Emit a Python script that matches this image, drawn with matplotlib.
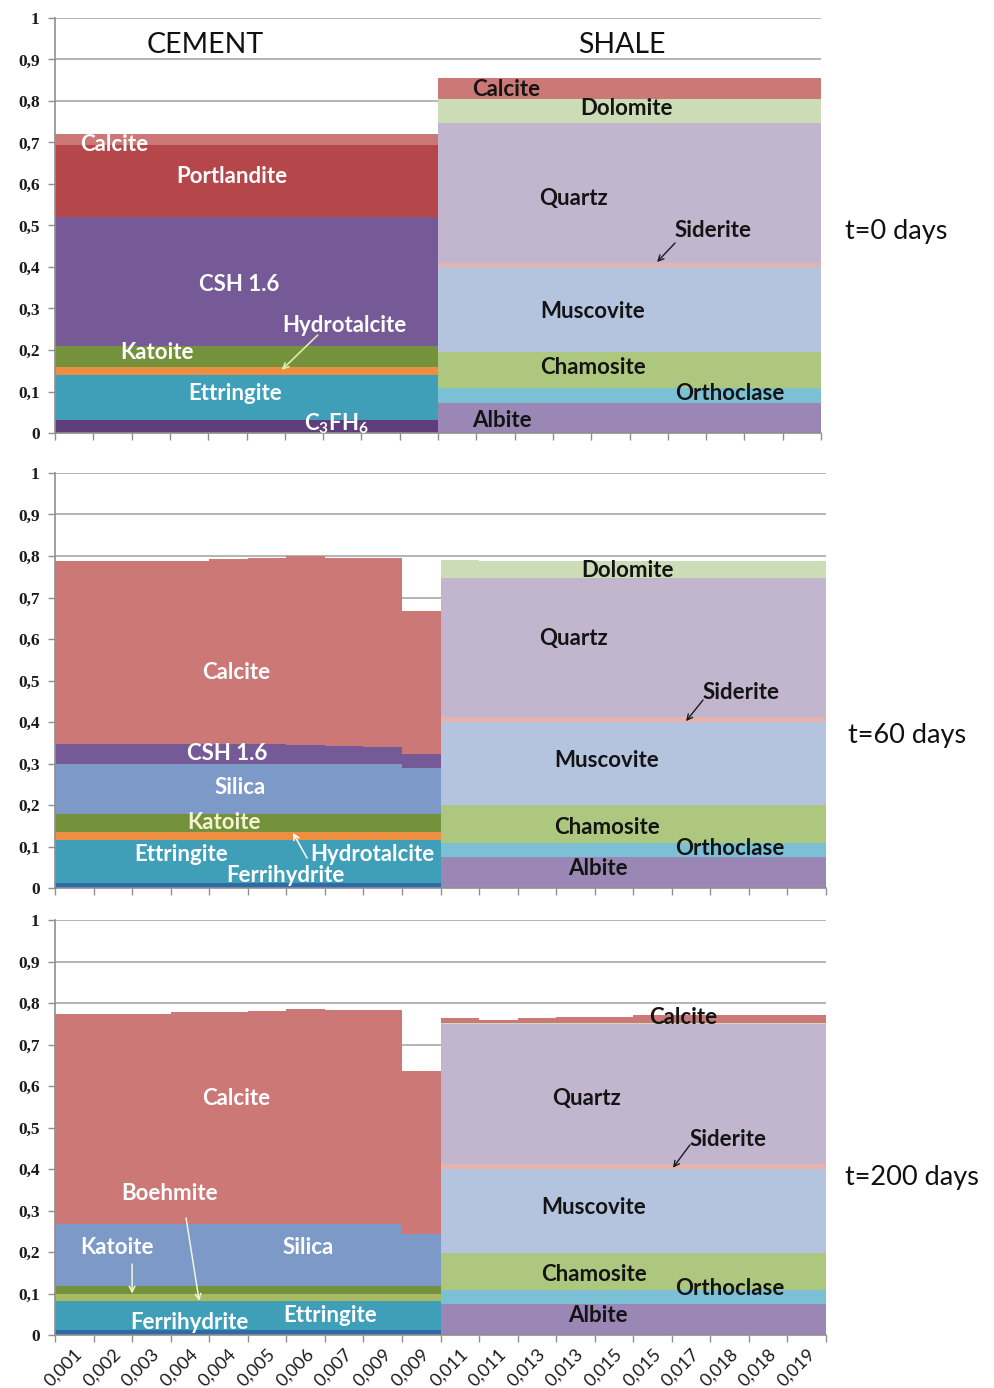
import matplotlib
matplotlib.use("Agg")
import matplotlib.pyplot as plt
import numpy as np

plt.rcParams["mathtext.fontset"] = "custom"
plt.rcParams["mathtext.rm"] = "Lato:bold"
plt.rcParams["mathtext.it"] = "Lato:bold"
plt.rcParams["mathtext.bf"] = "Lato:bold"

# ---- categories (distance from interface, m) ----
x_labels = ["0,001", "0,002", "0,003", "0,004", "0,004", "0,005", "0,006", "0,007", "0,009", "0,009",
            "0,011", "0,011", "0,013", "0,013", "0,015", "0,015", "0,017", "0,018", "0,018", "0,019"]
y_ticks = [0.0, 0.1, 0.2, 0.3, 0.4, 0.5, 0.6, 0.7, 0.8, 0.9, 1.0]
y_tick_labels = ["0", "0,1", "0,2", "0,3", "0,4", "0,5", "0,6", "0,7", "0,8", "0,9", "1"]

# ---- t = 0 days : cement (volume fractions, bottom to top) ----
t0_cem_c3fh6 = [0.032, 0.032, 0.032, 0.032, 0.032, 0.032, 0.032, 0.032, 0.032, 0.032]
t0_cem_ettringite = [0.108, 0.108, 0.108, 0.108, 0.108, 0.108, 0.108, 0.108, 0.108, 0.108]
t0_cem_hydrotalcite = [0.020, 0.020, 0.020, 0.020, 0.020, 0.020, 0.020, 0.020, 0.020, 0.020]
t0_cem_katoite = [0.050, 0.050, 0.050, 0.050, 0.050, 0.050, 0.050, 0.050, 0.050, 0.050]
t0_cem_csh = [0.310, 0.310, 0.310, 0.310, 0.310, 0.310, 0.310, 0.310, 0.310, 0.310]
t0_cem_portlandite = [0.175, 0.175, 0.175, 0.175, 0.175, 0.175, 0.175, 0.175, 0.175, 0.175]
t0_cem_calcite = [0.025, 0.025, 0.025, 0.025, 0.025, 0.025, 0.025, 0.025, 0.025, 0.025]

# ---- t = 0 days : shale ----
t0_sh_albite = [0.073, 0.073, 0.073, 0.073, 0.073, 0.073, 0.073, 0.073, 0.073, 0.073]
t0_sh_orthoclase = [0.035, 0.035, 0.035, 0.035, 0.035, 0.035, 0.035, 0.035, 0.035, 0.035]
t0_sh_chamosite = [0.088, 0.088, 0.088, 0.088, 0.088, 0.088, 0.088, 0.088, 0.088, 0.088]
t0_sh_muscovite = [0.204, 0.204, 0.204, 0.204, 0.204, 0.204, 0.204, 0.204, 0.204, 0.204]
t0_sh_siderite = [0.010, 0.010, 0.010, 0.010, 0.010, 0.010, 0.010, 0.010, 0.010, 0.010]
t0_sh_quartz = [0.336, 0.336, 0.336, 0.336, 0.336, 0.336, 0.336, 0.336, 0.336, 0.336]
t0_sh_dolomite = [0.060, 0.060, 0.060, 0.060, 0.060, 0.060, 0.060, 0.060, 0.060, 0.060]
t0_sh_calcite = [0.050, 0.050, 0.050, 0.050, 0.050, 0.050, 0.050, 0.050, 0.050, 0.050]

# ---- t = 60 days : cement ----
t60_cem_ferrihydrite = [0.013, 0.013, 0.013, 0.013, 0.013, 0.013, 0.013, 0.013, 0.013, 0.013]
t60_cem_ettringite = [0.102, 0.102, 0.102, 0.102, 0.102, 0.102, 0.102, 0.102, 0.102, 0.102]
t60_cem_hydrotalcite = [0.019, 0.019, 0.019, 0.019, 0.019, 0.019, 0.019, 0.019, 0.019, 0.019]
t60_cem_katoite = [0.044, 0.044, 0.044, 0.044, 0.044, 0.044, 0.044, 0.044, 0.044, 0.044]
t60_cem_silica = [0.120, 0.120, 0.120, 0.120, 0.120, 0.120, 0.120, 0.120, 0.120, 0.112]
t60_cem_csh = [0.048, 0.048, 0.048, 0.048, 0.048, 0.048, 0.047, 0.045, 0.041, 0.033]
t60_cem_calcite = [0.443, 0.443, 0.443, 0.443, 0.446, 0.449, 0.454, 0.453, 0.457, 0.345]

# ---- t = 60 days : shale ----
t60_sh_albite = [0.075, 0.075, 0.075, 0.075, 0.075, 0.075, 0.075, 0.075, 0.075, 0.075]
t60_sh_orthoclase = [0.033, 0.033, 0.033, 0.033, 0.033, 0.033, 0.033, 0.033, 0.033, 0.033]
t60_sh_chamosite = [0.091, 0.091, 0.091, 0.091, 0.091, 0.091, 0.091, 0.091, 0.091, 0.091]
t60_sh_muscovite = [0.201, 0.201, 0.201, 0.201, 0.201, 0.201, 0.201, 0.201, 0.201, 0.201]
t60_sh_siderite = [0.013, 0.013, 0.013, 0.013, 0.013, 0.013, 0.013, 0.013, 0.013, 0.013]
t60_sh_quartz = [0.334, 0.334, 0.334, 0.334, 0.334, 0.334, 0.334, 0.334, 0.334, 0.334]
t60_sh_dolomite = [0.044, 0.040, 0.040, 0.040, 0.040, 0.040, 0.040, 0.040, 0.040, 0.040]

# ---- t = 200 days : cement ----
t200_cem_ferrihydrite = [0.012, 0.012, 0.012, 0.012, 0.012, 0.012, 0.012, 0.012, 0.012, 0.012]
t200_cem_ettringite = [0.071, 0.071, 0.071, 0.071, 0.071, 0.071, 0.071, 0.071, 0.071, 0.071]
t200_cem_boehmite = [0.016, 0.016, 0.016, 0.016, 0.016, 0.016, 0.016, 0.016, 0.016, 0.016]
t200_cem_katoite = [0.019, 0.019, 0.019, 0.019, 0.019, 0.019, 0.019, 0.019, 0.019, 0.019]
t200_cem_silica = [0.149, 0.149, 0.149, 0.149, 0.149, 0.149, 0.149, 0.149, 0.149, 0.125]
t200_cem_calcite = [0.506, 0.506, 0.506, 0.511, 0.512, 0.514, 0.519, 0.516, 0.516, 0.393]

# ---- t = 200 days : shale ----
t200_sh_albite = [0.075, 0.075, 0.075, 0.075, 0.075, 0.075, 0.075, 0.075, 0.075, 0.075]
t200_sh_orthoclase = [0.033, 0.033, 0.033, 0.033, 0.033, 0.033, 0.033, 0.033, 0.033, 0.033]
t200_sh_chamosite = [0.090, 0.090, 0.090, 0.090, 0.090, 0.090, 0.090, 0.090, 0.090, 0.090]
t200_sh_muscovite = [0.202, 0.202, 0.202, 0.202, 0.202, 0.202, 0.202, 0.202, 0.202, 0.202]
t200_sh_siderite = [0.012, 0.012, 0.012, 0.012, 0.012, 0.012, 0.012, 0.012, 0.012, 0.012]
t200_sh_quartz = [0.337, 0.337, 0.337, 0.337, 0.337, 0.337, 0.337, 0.337, 0.337, 0.337]
t200_sh_dolomite = [0.004, 0.004, 0.004, 0.004, 0.004, 0.004, 0.004, 0.004, 0.004, 0.004]
t200_sh_calcite = [0.010, 0.006, 0.010, 0.014, 0.014, 0.018, 0.018, 0.018, 0.018, 0.018]

# ---- phase colours ----
COL = {
    "C3FH6": "#5E3D7A",
    "Ettringite": "#3F9FB9",
    "Hydrotalcite": "#EE8E40",
    "Katoite": "#74923B",
    "CSH": "#765A98",
    "Portlandite": "#B5474A",
    "Calcite": "#CC7876",
    "Silica": "#7C99C8",
    "Ferrihydrite": "#2E6AA6",
    "Boehmite": "#A9B862",
    "Albite": "#9A87B6",
    "Orthoclase": "#7BC0D5",
    "Chamosite": "#AEC77F",
    "Muscovite": "#B4C4DF",
    "Siderite": "#E6B2AE",
    "Quartz": "#C2B6CF",
    "Dolomite": "#CCDCB7",
}

cement_x = np.arange(0, 10)
shale_x = np.arange(10, 20)

panels = [
    {
        "cement": [("C3FH6", t0_cem_c3fh6), ("Ettringite", t0_cem_ettringite),
                   ("Hydrotalcite", t0_cem_hydrotalcite), ("Katoite", t0_cem_katoite),
                   ("CSH", t0_cem_csh), ("Portlandite", t0_cem_portlandite),
                   ("Calcite", t0_cem_calcite)],
        "shale": [("Albite", t0_sh_albite), ("Orthoclase", t0_sh_orthoclase),
                  ("Chamosite", t0_sh_chamosite), ("Muscovite", t0_sh_muscovite),
                  ("Siderite", t0_sh_siderite), ("Quartz", t0_sh_quartz),
                  ("Dolomite", t0_sh_dolomite), ("Calcite", t0_sh_calcite)],
    },
    {
        "cement": [("Ferrihydrite", t60_cem_ferrihydrite), ("Ettringite", t60_cem_ettringite),
                   ("Hydrotalcite", t60_cem_hydrotalcite), ("Katoite", t60_cem_katoite),
                   ("Silica", t60_cem_silica), ("CSH", t60_cem_csh),
                   ("Calcite", t60_cem_calcite)],
        "shale": [("Albite", t60_sh_albite), ("Orthoclase", t60_sh_orthoclase),
                  ("Chamosite", t60_sh_chamosite), ("Muscovite", t60_sh_muscovite),
                  ("Siderite", t60_sh_siderite), ("Quartz", t60_sh_quartz),
                  ("Dolomite", t60_sh_dolomite)],
    },
    {
        "cement": [("Ferrihydrite", t200_cem_ferrihydrite), ("Ettringite", t200_cem_ettringite),
                   ("Boehmite", t200_cem_boehmite), ("Katoite", t200_cem_katoite),
                   ("Silica", t200_cem_silica), ("Calcite", t200_cem_calcite)],
        "shale": [("Albite", t200_sh_albite), ("Orthoclase", t200_sh_orthoclase),
                  ("Chamosite", t200_sh_chamosite), ("Muscovite", t200_sh_muscovite),
                  ("Siderite", t200_sh_siderite), ("Quartz", t200_sh_quartz),
                  ("Dolomite", t200_sh_dolomite), ("Calcite", t200_sh_calcite)],
    },
]

LABEL_FONT = "Lato"
FS = 16
W = dict(color="white", fontsize=FS, fontweight="bold", family=LABEL_FONT, ha="center", va="center")
D = dict(color="#141414", fontsize=FS, fontweight="bold", family=LABEL_FONT, ha="center", va="center")

fig = plt.figure(figsize=(9.95, 13.88), dpi=100)
rects = [
    [55 / 995, 1 - 433 / 1388, 766 / 995, 415 / 1388],
    [55 / 995, 1 - 888 / 1388, 771 / 995, 415 / 1388],
    [55 / 995, 1 - 1335 / 1388, 771 / 995, 415 / 1388],
]
axes = []
for i, (rect, pdata) in enumerate(zip(rects, panels)):
    ax = fig.add_axes(rect)
    axes.append(ax)
    for xs, key in ((cement_x, "cement"), (shale_x, "shale")):
        bottom = np.zeros(10)
        for name, vals in pdata[key]:
            v = np.asarray(vals)
            ax.bar(xs, v, bottom=bottom, width=1.0, color=COL[name],
                   linewidth=0, antialiased=False, zorder=2)
            bottom = bottom + v
    ax.set_xlim(-0.5, 19.5)
    ax.set_ylim(0, 1.0)
    ax.set_yticks(y_ticks)
    ax.set_yticklabels(y_tick_labels, family="Liberation Serif", fontweight="bold",
                       fontsize=12.5, color="#1a1a1a")
    ax.yaxis.grid(True, color="#A8A8A8", linewidth=1.2, zorder=0)
    ax.set_axisbelow(True)
    for s in ("top", "right"):
        ax.spines[s].set_visible(False)
    for s in ("left", "bottom"):
        ax.spines[s].set_color("#8F8F8F")
        ax.spines[s].set_linewidth(1.2)
    ax.tick_params(axis="y", direction="out", length=5, width=1.0, color="#8F8F8F", pad=6)
    # category boundaries get the tick marks, labels sit at bar centres
    ax.set_xticks(np.arange(-0.5, 20, 1.0), minor=True)
    ax.tick_params(axis="x", which="minor", direction="out", length=5, width=1.0, color="#8F8F8F")
    ax.set_xticks(np.arange(20))
    ax.tick_params(axis="x", which="major", length=0, pad=8)
    if i == 2:
        ax.set_xticklabels(x_labels, rotation=45, ha="right", va="top",
                           rotation_mode="anchor", family=LABEL_FONT, fontsize=13,
                           color="#1a1a1a")
    else:
        ax.set_xticklabels([])

ax1, ax2, ax3 = axes

# ---- t = 0 days ----
ax1.text(3.41, 0.935, "CEMENT", family=LABEL_FONT, fontsize=20.5, ha="center", va="center", color="#111111")
ax1.text(14.31, 0.935, "SHALE", family=LABEL_FONT, fontsize=20.5, ha="center", va="center", color="#111111")
ax1.text(1.04, 0.696, "Calcite", **W)
ax1.text(4.12, 0.617, "Portlandite", **W)
ax1.text(4.32, 0.357, "CSH 1.6", **W)
ax1.text(7.06, 0.258, "Hydrotalcite", **W)
ax1.annotate("", xy=(5.42, 0.152), xytext=(6.36, 0.236),
             arrowprops=dict(arrowstyle="->", color="#DCEFA8", lw=1.2, shrinkA=0, shrinkB=0))
ax1.text(2.16, 0.195, "Katoite", **W)
ax1.text(4.19, 0.094, "Ettringite", **W)
ax1.text(6.85, 0.022, r"C$_3$FH$_6$", **W)
ax1.text(11.29, 0.827, "Calcite", **D)
ax1.text(14.42, 0.783, "Dolomite", **D)
ax1.text(13.03, 0.564, "Quartz", **D)
ax1.text(16.68, 0.487, "Siderite", **D)
ax1.annotate("", xy=(15.22, 0.412), xytext=(15.69, 0.458),
             arrowprops=dict(arrowstyle="->", color="#1a1a1a", lw=1.0, shrinkA=0, shrinkB=0))
ax1.text(13.55, 0.292, "Muscovite", **D)
ax1.text(13.55, 0.159, "Chamosite", **D)
ax1.text(17.13, 0.094, "Orthoclase", **D)
ax1.text(11.18, 0.029, "Albite", **D)

# ---- t = 60 days ----
ax2.text(4.20, 0.520, "Calcite", **W)
ax2.text(3.96, 0.323, "CSH 1.6", **W)
ax2.text(4.30, 0.243, "Silica", **W)
ax2.text(3.88, 0.159, "Katoite", **dict(W, color="#F4F4D2"))
ax2.text(2.77, 0.080, "Ettringite", **W)
ax2.text(7.72, 0.080, "Hydrotalcite", **W)
ax2.annotate("", xy=(5.67, 0.133), xytext=(6.04, 0.072),
             arrowprops=dict(arrowstyle="->", color="white", lw=1.1, shrinkA=0, shrinkB=0))
ax2.text(5.47, 0.029, "Ferrihydrite", **W)
ax2.text(14.34, 0.766, "Dolomite", **D)
ax2.text(12.96, 0.602, "Quartz", **D)
ax2.text(17.30, 0.472, "Siderite", **D)
ax2.annotate("", xy=(15.87, 0.402), xytext=(16.31, 0.453),
             arrowprops=dict(arrowstyle="->", color="#1a1a1a", lw=1.0, shrinkA=0, shrinkB=0))
ax2.text(13.82, 0.308, "Muscovite", **D)
ax2.text(13.82, 0.145, "Chamosite", **D)
ax2.text(17.01, 0.094, "Orthoclase", **D)
ax2.text(13.59, 0.046, "Albite", **D)

# ---- t = 200 days ----
ax3.text(4.20, 0.571, "Calcite", **W)
ax3.text(2.46, 0.342, "Boehmite", **W)
ax3.annotate("", xy=(3.24, 0.082), xytext=(2.90, 0.282),
             arrowprops=dict(arrowstyle="->", color="#F2F6D8", lw=1.1, shrinkA=0, shrinkB=0))
ax3.text(1.11, 0.210, "Katoite", **W)
ax3.annotate("", xy=(1.50, 0.100), xytext=(1.50, 0.171),
             arrowprops=dict(arrowstyle="->", color="#F2F6D8", lw=1.1, shrinkA=0, shrinkB=0))
ax3.text(6.06, 0.210, "Silica", **W)
ax3.text(2.98, 0.029, "Ferrihydrite", **W)
ax3.text(6.63, 0.048, "Ettringite", **W)
ax3.text(15.79, 0.766, "Calcite", **D)
ax3.text(13.30, 0.569, "Quartz", **D)
ax3.text(16.96, 0.470, "Siderite", **D)
ax3.annotate("", xy=(15.53, 0.403), xytext=(15.97, 0.458),
             arrowprops=dict(arrowstyle="->", color="#1a1a1a", lw=1.0, shrinkA=0, shrinkB=0))
ax3.text(13.48, 0.308, "Muscovite", **D)
ax3.text(13.48, 0.145, "Chamosite", **D)
ax3.text(17.01, 0.113, "Orthoclase", **D)
ax3.text(13.59, 0.048, "Albite", **D)

# ---- time labels ----
T = dict(family=LABEL_FONT, fontsize=19.5, ha="left", va="center", color="#111111")
fig.text(845 / 995, 1 - 231 / 1388, "t=0 days", **T)
fig.text(848 / 995, 1 - 735 / 1388, "t=60 days", **T)
fig.text(845 / 995, 1 - 1178 / 1388, "t=200 days", **T)

fig.savefig("out.png", dpi=100, facecolor="white")
